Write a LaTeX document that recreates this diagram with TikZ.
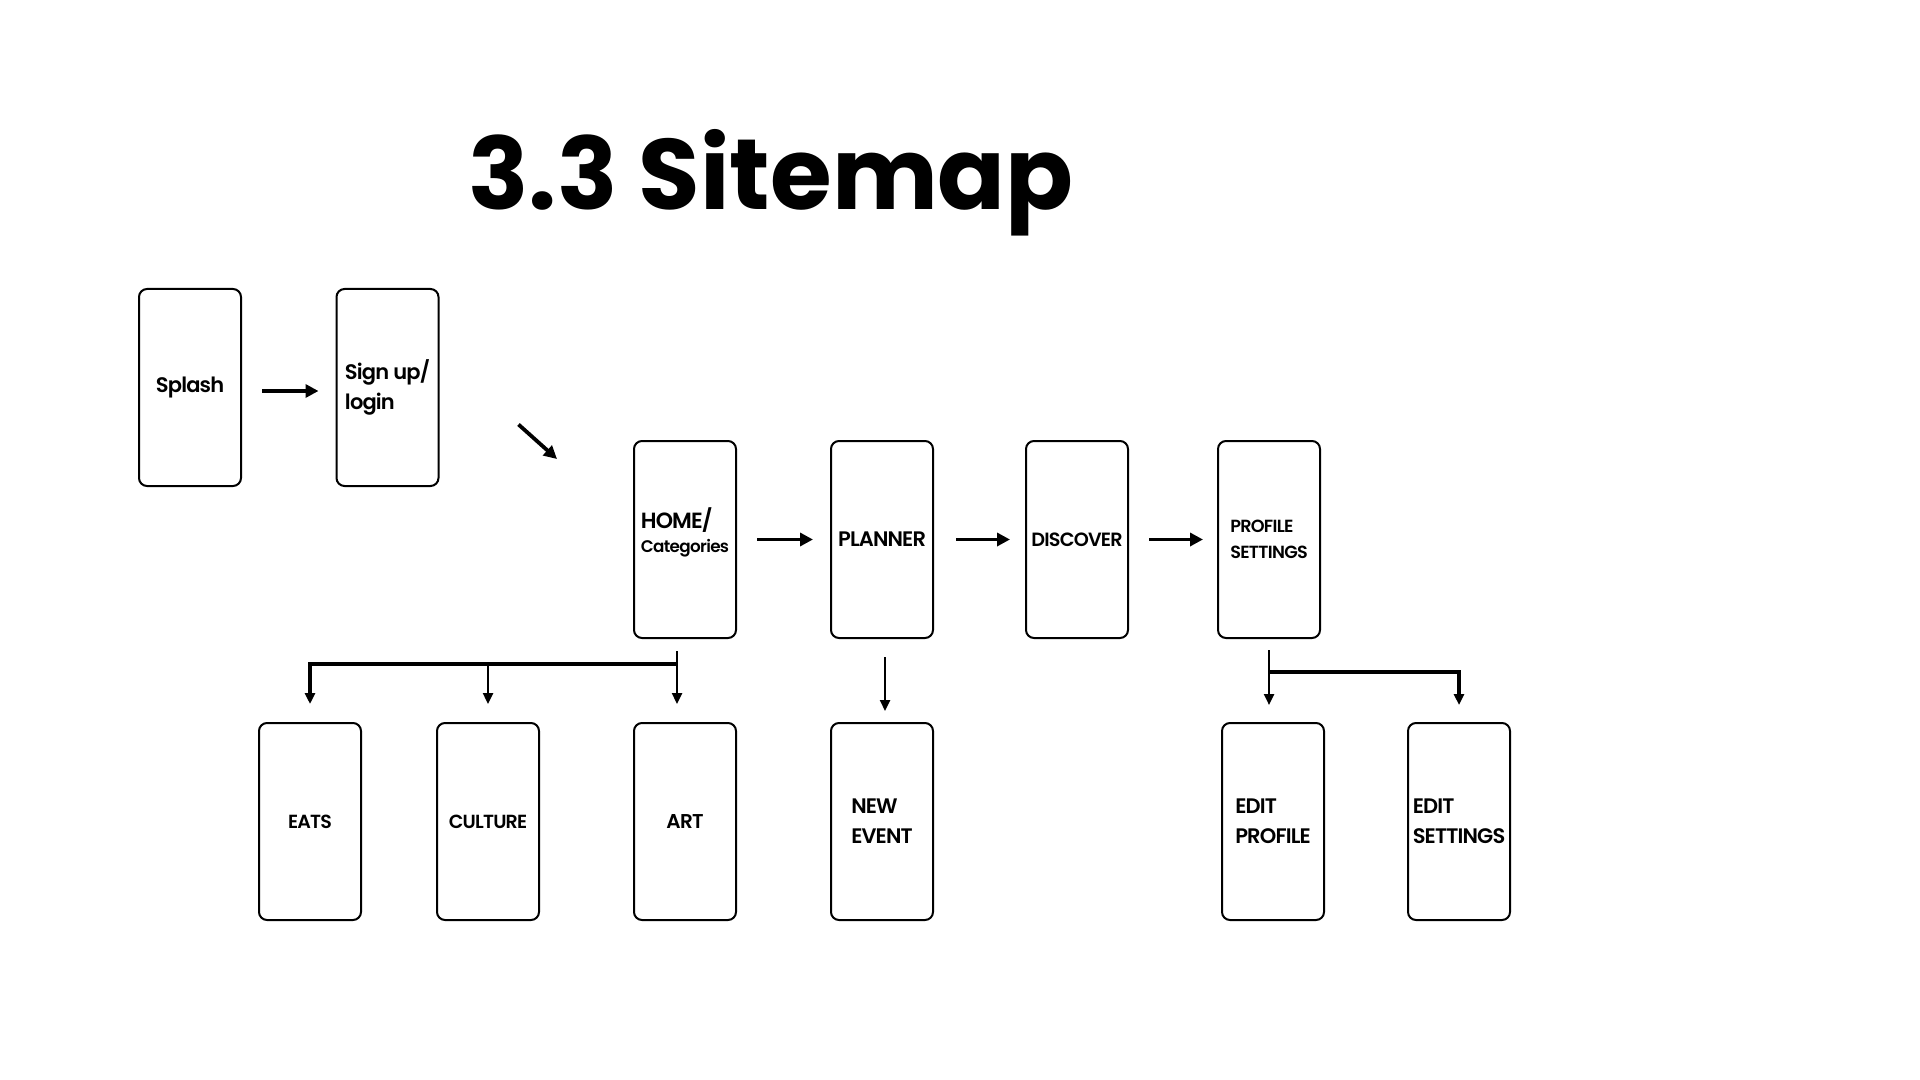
\documentclass[tikz,border=0pt]{standalone}
\usepackage{fontspec}
\setmainfont{Poppins}
\newfontfamily\medfont{Poppins}[UprightFont=* SemiBold, LetterSpace=-4]
\usepackage{tikz}
\usetikzlibrary{arrows.meta,positioning}

\begin{document}
\begin{tikzpicture}[x=0.5pt, y=-0.5pt,
    screen/.style={draw, line width=1pt, rounded corners=4pt, minimum width=51pt, minimum height=98.5pt, inner sep=0pt, align=center, font=\medfont\fontsize{10.5}{15}\selectfont},
    lscreen/.style={screen, align=left},
    flow/.style={-{Triangle[length=6.5pt,width=6.5pt]}, line width=1.9pt, shorten <=10pt, shorten >=8.5pt},
    branch/.style={-{Triangle[length=5.5pt,width=5pt]}, line width=1.2pt}]
    % Page
    \useasboundingbox (0,0) rectangle (1920,1080);

    % Title
    \node[anchor=base west, inner sep=0pt, font=\bfseries\fontsize{50}{60}\selectfont] (title) at (468,210) {3.3 Sitemap};

    % Top row
    \node[screen] (splash) at (190,387.5) {Splash};
    \node[lscreen] (signup) at (387.5,387.5) {Sign up/\\login};

    % Main row
    \node[lscreen, text depth=9pt] (home) at (685,539.5) {\fontsize{11}{12.75}\selectfont HOME/\\[-3pt]{\fontsize{8.4}{12.75}\selectfont Categories}};
    \node[screen] (planner) at (882,539.5) {PLANNER};
    \node[screen, font=\medfont\fontsize{9.6}{12}\selectfont] (discover) at (1077,539.5) {DISCOVER};
    \node[lscreen, font=\medfont\fontsize{8.8}{13}\selectfont] (profile) at (1269,539.5) {PROFILE\\SETTINGS};

    % Bottom row
    \node[screen, font=\medfont\fontsize{9.5}{12}\selectfont] (eats) at (310,821.5) {EATS};
    \node[screen, font=\medfont\fontsize{9.5}{12}\selectfont] (culture) at (488,821.5) {CULTURE};
    \node[screen, font=\medfont\fontsize{10}{12}\selectfont] (art) at (685,821.5) {ART};
    \node[lscreen] (newevent) at (882,821.5) {NEW\\EVENT};
    \node[lscreen] (editprofile) at (1273,821.5) {EDIT\\PROFILE};
    \node[lscreen] (editsettings) at (1459,821.5) {EDIT\\SETTINGS};

    % Flow arrows
    \draw[flow] ([yshift=-1.75pt]splash.east) -- ([yshift=-1.75pt]signup.west);
    \draw[flow, shorten <=0pt, shorten >=0pt] ([shift={(79,37)}]signup.east) -- ([shift={(-76,19)}]home.north west);
    \draw[flow] (home) -- (planner);
    \draw[flow, shorten <=11pt, shorten >=7.5pt] (planner) -- (discover);
    \draw[flow, shorten >=7pt] (discover) -- (profile);

    % Branches
    \coordinate (homefork) at ([xshift=-4pt, yshift=-12.5pt]home.south);
    \draw[branch] ([xshift=-4pt, yshift=-6pt]home.south) -- ([xshift=-4pt, yshift=9pt]art.north);
    \draw[branch, line width=1.6pt] (homefork) -| ([yshift=9pt]eats.north);
    \draw[branch] (homefork -| culture.north) -- ([yshift=9pt]culture.north);
    \draw[branch] ([xshift=1.5pt, yshift=-9pt]planner.south) -- ([xshift=1.5pt, yshift=5.5pt]newevent.north);
    \coordinate (proffork) at ([yshift=-16.5pt]profile.south);
    \draw[branch] ([yshift=-5.5pt]profile.south) -- ([yshift=8.5pt]profile.south |- editprofile.north);
    \draw[branch, line width=1.6pt] (proffork) -| ([yshift=8.5pt]editsettings.north);
\end{tikzpicture}
\end{document}
